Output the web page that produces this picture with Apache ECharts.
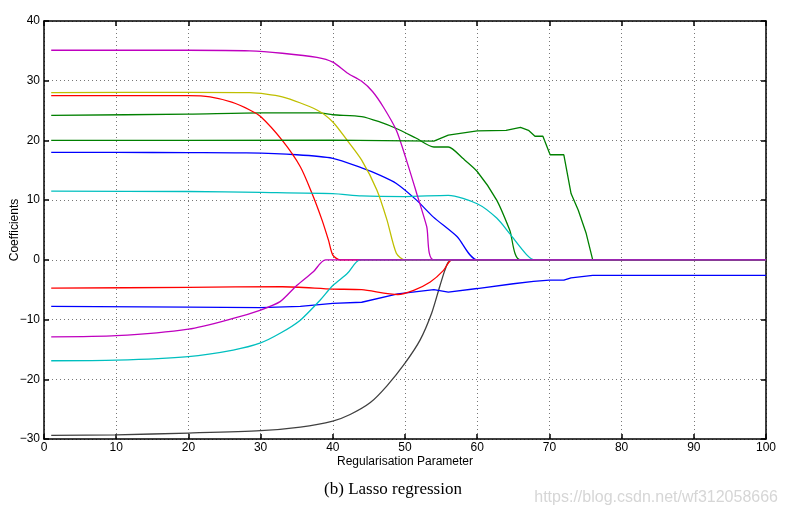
<!DOCTYPE html>
<html>
<head>
<meta charset="utf-8">
<script src="https://cdn.jsdelivr.net/npm/echarts@6/dist/echarts.min.js"></script>
<style>
  html, body { margin: 0; padding: 0; background: #fff; }
  #chart { width: 786px; height: 521px; }
</style>
</head>
<body>
<div id="chart"></div>
<script>
// coefficient paths, [regularisation parameter, coefficient]
const blue1 = [[1,18],[10,18],[20,17.95],[28,17.9],[35,17.6],[40,17.0],[44,15.4],[46.5,14.2],[48.8,12.8],[51.6,10.0],[53.9,7.2],[57.2,3.9],[60,0],[100,0]];
const green1 = [[1,24.2],[20,24.4],[30,24.6],[38,24.6],[40,24.3],[44,24.0],[46.5,23.1],[48.8,22.0],[51.5,20.4],[54,18.9],[56,18.9],[58,17],[60,14.8],[62.7,10.0],[64.5,5.0],[66,0],[100,0]];
const red1 = [[1,27.5],[20,27.5],[23,27.3],[26,26.4],[28.5,25.1],[30,24],[33,20],[35.5,15.6],[37.1,11.2],[38.5,6.7],[39.4,3.3],[40,0.8],[41,0],[100,0]];
const cyan1 = [[1,11.5],[20,11.45],[30,11.3],[40,11.1],[44,10.7],[50,10.6],[56,10.8],[60,9.4],[62.7,7.0],[64.5,4.4],[66.9,0.8],[68,0],[100,0]];
const magenta1 = [[1,35.1],[20,35.1],[28.5,35.0],[33,34.6],[37.8,33.9],[40,33.1],[42,31.3],[44,29.9],[45.5,28.2],[47,25.6],[48.8,21.7],[50.2,16.7],[51.6,11.2],[53,5.6],[54,0],[100,0]];
const yellow1 = [[1,28],[20,28.05],[28.5,28.0],[33,27.3],[37.8,25.1],[40,23.1],[42,20],[44,16.7],[46.1,11.7],[47.5,6.7],[48.8,1.1],[50,0],[100,0]];
const black1 = [[1,-29.4],[10,-29.3],[20,-29.0],[30,-28.6],[35.5,-28.0],[40,-27.0],[42.4,-25.9],[45.2,-23.9],[47.5,-21.1],[50,-17.3],[52.1,-13.4],[53.7,-8.9],[54.8,-4.5],[55.5,-1.8],[56,-0.4],[56.7,0],[100,0]];
const blue2 = [[1,-7.8],[20,-7.9],[30,-8.0],[35.5,-7.8],[40,-7.3],[44,-7.1],[49,-5.7],[54,-5.0],[56,-5.4],[60,-4.8],[65,-4.0],[67.8,-3.6],[70,-3.4],[72,-3.4],[73,-3.0],[76,-2.6],[100,-2.6]];
const green2 = [[1,20],[20,20],[40,20.05],[54,19.9],[56,20.9],[60,21.6],[64,21.7],[66,22.2],[67.1,21.7],[68,20.7],[69.1,20.7],[70.1,17.6],[72,17.6],[73,11.1],[74,8.3],[75.1,4.4],[76,0],[100,0]];
const red2 = [[1,-4.75],[20,-4.6],[33,-4.5],[40,-4.9],[44,-5.0],[49,-5.8],[51.2,-5.1],[53.5,-3.7],[55.3,-1.8],[56.2,-0.2],[56.7,0],[100,0]];
const cyan2 = [[1,-16.9],[10,-16.8],[20,-16.2],[26.2,-15.1],[30,-13.9],[32.7,-12.3],[35.5,-10.1],[38.2,-6.8],[40,-4.3],[42,-2.3],[43.8,0],[100,0]];
const magenta2 = [[1,-12.9],[10,-12.7],[20,-11.6],[26.2,-9.8],[30,-8.4],[32.7,-7.0],[35,-4.3],[37.3,-2.0],[39,0],[100,0]];

// matlab colour order b g r c m y k
const paths = [blue1, green1, red1, cyan1, magenta1, yellow1, black1, blue2, green2, red2, cyan2, magenta2];
const colors = ["#0000ff", "#008000", "#ff0000", "#00bfbf", "#bf00bf", "#bfbf00", "#404040",
                "#0000ff", "#008000", "#ff0000", "#00bfbf", "#bf00bf"];
// the stepped ones stay piecewise straight
const straight = [blue2, green2];

const chart = echarts.init(document.getElementById("chart"));

const font = "'Liberation Sans Narrow', 'Liberation Sans', Arial, sans-serif";
const minus = (v) => String(v).replace("-", "\u2212");

const baseAxis = {
  type: "value",
  axisLine: { show: true, onZero: false, lineStyle: { color: "#000", width: 1.5 } },
  axisTick: { show: true, inside: true, length: 5, lineStyle: { color: "#000", width: 1.5 } },
  splitLine: { show: false },
};

chart.setOption({
  animation: false,
  backgroundColor: "#fff",
  title: {
    text: "(b) Lasso regression",
    left: "center",
    top: 476,
    textStyle: { fontFamily: "'Liberation Serif', serif", fontSize: 17, fontWeight: "normal", color: "#000" },
  },
  graphic: [{
    type: "text",
    right: 8,
    top: 490,
    style: { text: "https://blog.csdn.net/wf312058666", font: "16px " + font, fill: "#d6d6d6" },
  }],
  grid: { left: 44, right: 20, top: 21, bottom: 82, containLabel: false, outerBoundsMode: "none" },
  xAxis: [
    Object.assign({}, baseAxis, {
      position: "bottom", min: 0, max: 100, interval: 10,
      name: "Regularisation Parameter", nameLocation: "middle", nameGap: 17, nameMoveOverlap: false,
      nameTextStyle: { fontFamily: font, fontSize: 12, color: "#000" },
      axisLabel: { fontFamily: font, fontSize: 12, color: "#000", margin: 3 },
      splitLine: { show: true, lineStyle: { type: [1, 3], color: "#777", width: 1 } },
    }),
    Object.assign({}, baseAxis, { position: "top", min: 0, max: 100, interval: 10, axisLabel: { show: false } }),
  ],
  yAxis: [
    Object.assign({}, baseAxis, {
      position: "left", min: -30, max: 40, interval: 10,
      name: "Coefficients", nameLocation: "middle", nameGap: 23, nameRotate: 90, nameMoveOverlap: false,
      nameTextStyle: { fontFamily: font, fontSize: 12, color: "#000" },
      axisLabel: { fontFamily: font, fontSize: 12, color: "#000", margin: 4, formatter: minus },
      splitLine: { show: true, lineStyle: { type: [1, 3], color: "#777", width: 1 } },
    }),
    Object.assign({}, baseAxis, { position: "right", min: -30, max: 40, interval: 10, axisLabel: { show: false } }),
  ],
  series: paths.map((d, i) => ({
    type: "line",
    data: d,
    xAxisIndex: 0,
    yAxisIndex: 0,
    showSymbol: false,
    symbol: "none",
    smooth: straight.includes(d) ? false : 0.25,
    lineStyle: { color: colors[i], width: 1.3 },
    itemStyle: { color: colors[i] },
  })),
});
</script>
</body>
</html>
